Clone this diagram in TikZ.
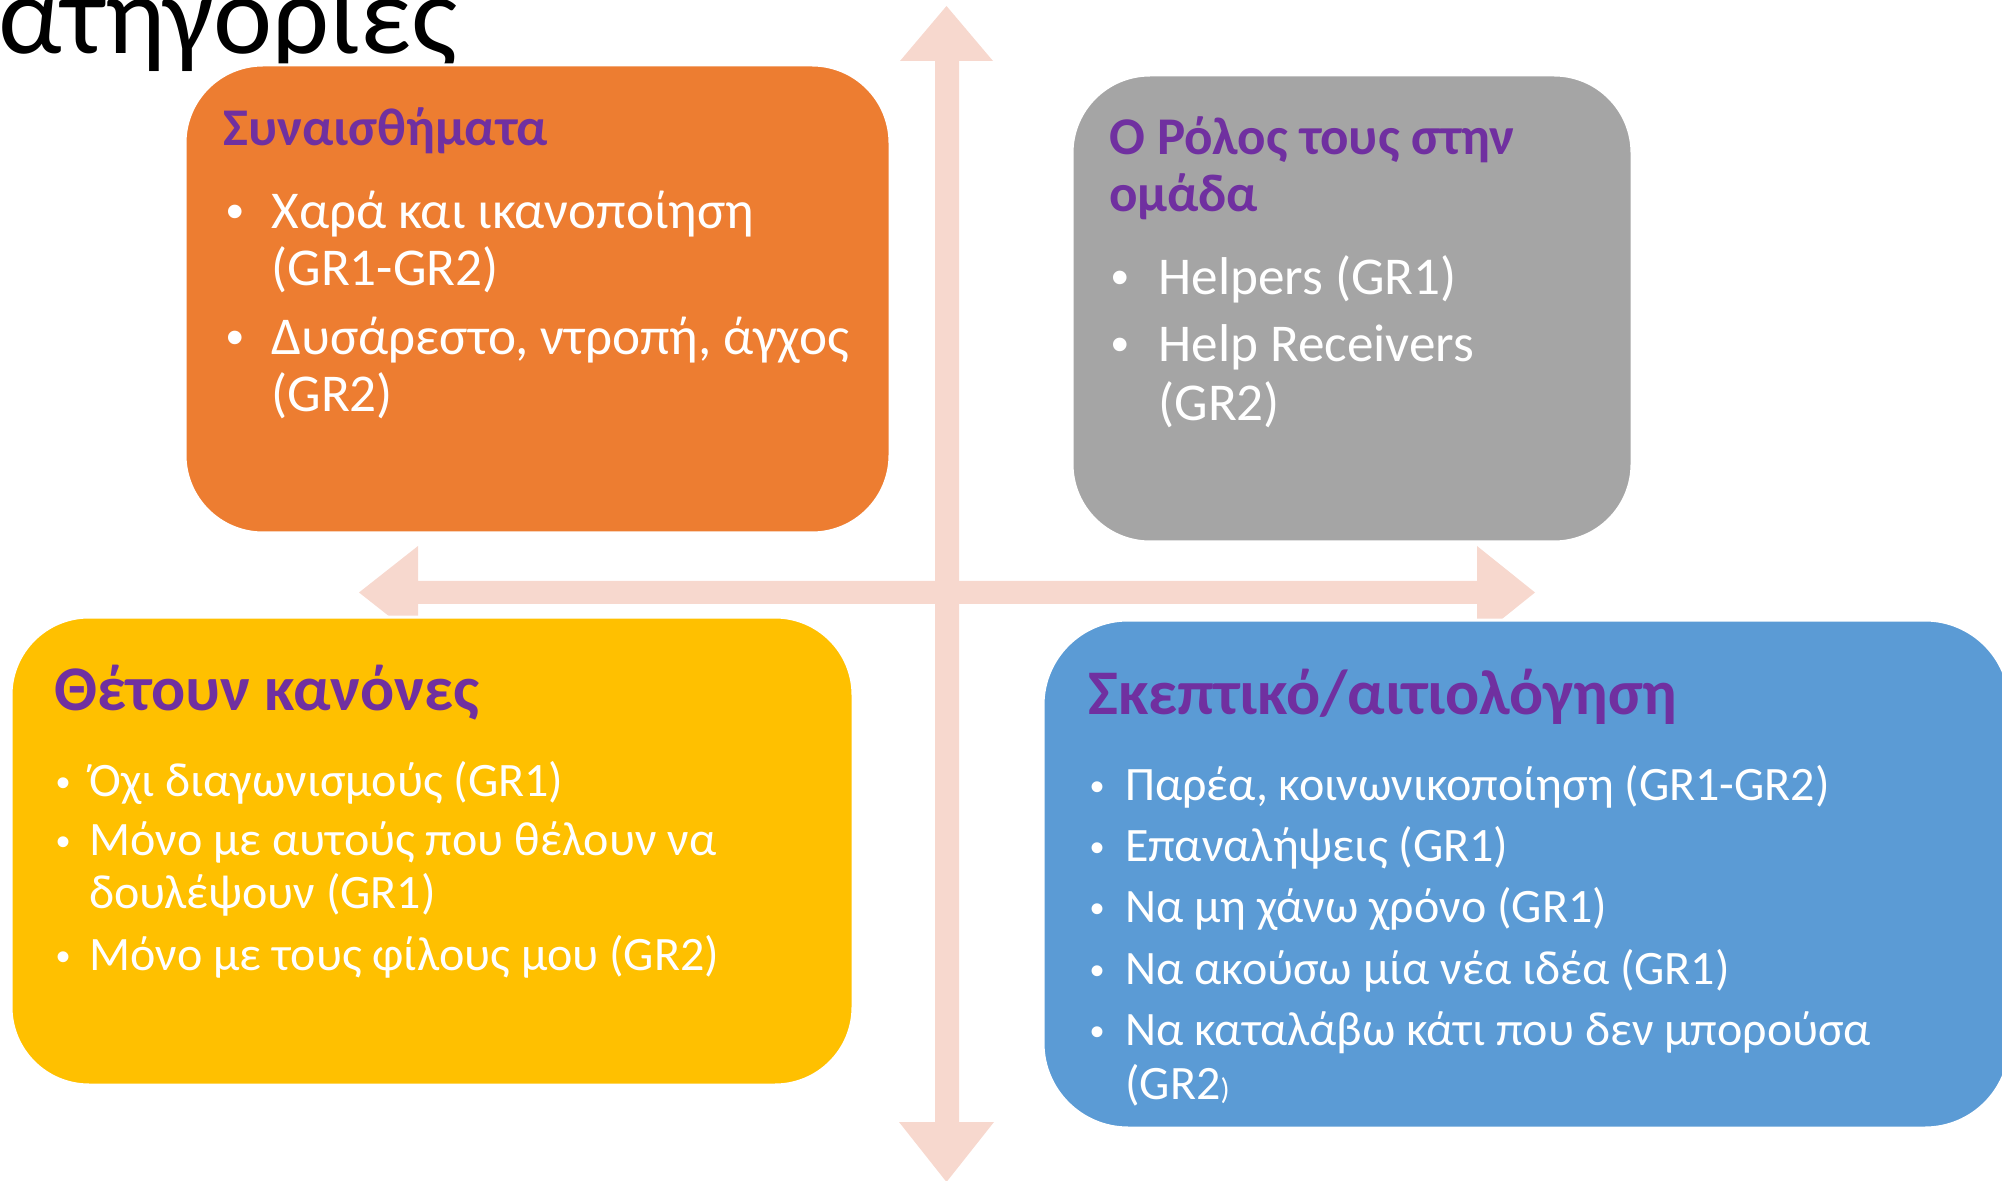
\documentclass[tikz,border=0pt]{standalone}
\usepackage{fontspec}
\setmainfont{Carlito}
\newfontfamily\bulfont{Liberation Sans}
\definecolor{cOrange}{HTML}{ED7D31}
\definecolor{cGray}{HTML}{A5A5A5}
\definecolor{cYellow}{HTML}{FFC000}
\definecolor{cBlue}{HTML}{5B9BD5}
\definecolor{cPurple}{HTML}{7030A0}
\definecolor{cArrow}{HTML}{F7D8CE}
\tikzset{
  box/.style={rectangle, draw=white, line width=1.5pt, inner sep=0pt, outer sep=0pt},
  ttl/.style={anchor=base west, inner sep=0pt, text=cPurple, font=\bfseries\fontsize{26.5}{30}\selectfont},
  bigttl/.style={anchor=base west, inner sep=0pt, text=cPurple, font=\bfseries\fontsize{31.8}{36}\selectfont},
  body/.style={anchor=base west, inner sep=0pt, text=white, font=\fontsize{26.6}{30}\selectfont},
  smallbody/.style={anchor=base west, inner sep=0pt, text=white, font=\fontsize{24}{28}\selectfont},
  bul/.style={anchor=base, inner sep=0pt, text=white, font=\bulfont\fontsize{25}{30}\selectfont},
  smallbul/.style={anchor=base, inner sep=0pt, text=white, font=\bulfont\fontsize{20}{24}\selectfont},
}
\begin{document}
\begin{tikzpicture}[x=0.5pt,y=-0.5pt]
\useasboundingbox (0,0) rectangle (2002,1181);
% heading (cut off at the left)
\node[anchor=base west, inner sep=0pt, text=black, font=\fontsize{56}{64}\selectfont] (head) at (-2,54) {\llap{Κ}ατηγορίες};
% arrows
\fill[cArrow] (935,61) -- (900,61) -- (946.5,6) -- (993,61) -- (959,61) -- (959,1122) -- (994,1122) -- (946.5,1182) -- (899,1122) -- (935,1122) -- cycle;
\fill[cArrow] (418,581) -- (418,546) -- (359,592.5) -- (418,639) -- (418,604) -- (1477,604) -- (1477,639) -- (1535,592.5) -- (1477,546) -- (1477,581) -- cycle;
% boxes
\node[box, fill=cOrange, rounded corners=39pt, minimum width=352.5pt, minimum height=234pt] (orange) at (537.5,299) {};
\node[box, fill=cGray, rounded corners=39pt, minimum width=280pt, minimum height=233.5pt] (gray) at (1352,308.5) {};
\node[box, fill=cYellow, rounded corners=39pt, minimum width=421pt, minimum height=234pt] (yellow) at (432,851) {};
\node[box, fill=cBlue, rounded corners=42.5pt, minimum width=483.5pt, minimum height=254pt] (blue) at (1526.5,874) {};
% orange texts
\node[ttl] (ot) at (223,146) {Συναισθήματα};
\node[bul] (ob1) at (235,229) {•};
\node[body] (o1a) at (271,229) {Χαρά και ικανοποίηση};
\node[body] (o1b) at (271,286) {(GR1-GR2)};
\node[bul] (ob2) at (235,355) {•};
\node[body] (o2a) at (271,355) {Δυσάρεστο, ντροπή, άγχος};
\node[body] (o2b) at (271,412) {(GR2)};
% gray texts
\node[ttl] (gt1) at (1109,155) {Ο Ρόλος τους στην};
\node[ttl] (gt2) at (1109,212) {ομάδα};
\node[bul] (gb1) at (1120,295) {•};
\node[body] (g1) at (1158,295) {Helpers (GR1)};
\node[bul] (gb2) at (1120,362) {•};
\node[body] (g2a) at (1158,362) {Help Receivers};
\node[body] (g2b) at (1158,421) {(GR2)};
% yellow texts
\node[bigttl] (yt) at (54,710) {Θέτουν κανόνες};
\node[smallbul] (yb1) at (64,796) {•};
\node[smallbody] (y1) at (89,796) {Όχι διαγωνισμούς (GR1)};
\node[smallbul] (yb2) at (64,855) {•};
\node[smallbody] (y2a) at (89,855) {Μόνο με αυτούς που θέλουν να};
\node[smallbody] (y2b) at (89,908) {δουλέψουν (GR1)};
\node[smallbul] (yb3) at (64,970) {•};
\node[smallbody] (y3) at (89,970) {Μόνο με τους φίλους μου (GR2)};
% blue texts
\node[bigttl] (bt) at (1088,714) {Σκεπτικό/αιτιολόγηση};
\node[smallbul] (bb1) at (1097,800) {•};
\node[smallbody] (b1) at (1125,800) {Παρέα, κοινωνικοποίηση (GR1-GR2)};
\node[smallbul] (bb2) at (1097,861) {•};
\node[smallbody] (b2) at (1125,861) {Επαναλήψεις (GR1)};
\node[smallbul] (bb3) at (1097,922) {•};
\node[smallbody] (b3) at (1125,922) {Να μη χάνω χρόνο (GR1)};
\node[smallbul] (bb4) at (1097,984) {•};
\node[smallbody] (b4) at (1125,984) {Να ακούσω μία νέα ιδέα (GR1)};
\node[smallbul] (bb5) at (1097,1045) {•};
\node[smallbody] (b5a) at (1125,1045) {Να καταλάβω κάτι που δεν μπορούσα};
\node[smallbody] (b5b) at (1125,1099) {(GR2{\fontsize{15}{18}\selectfont)}};
\end{tikzpicture}
\end{document}
